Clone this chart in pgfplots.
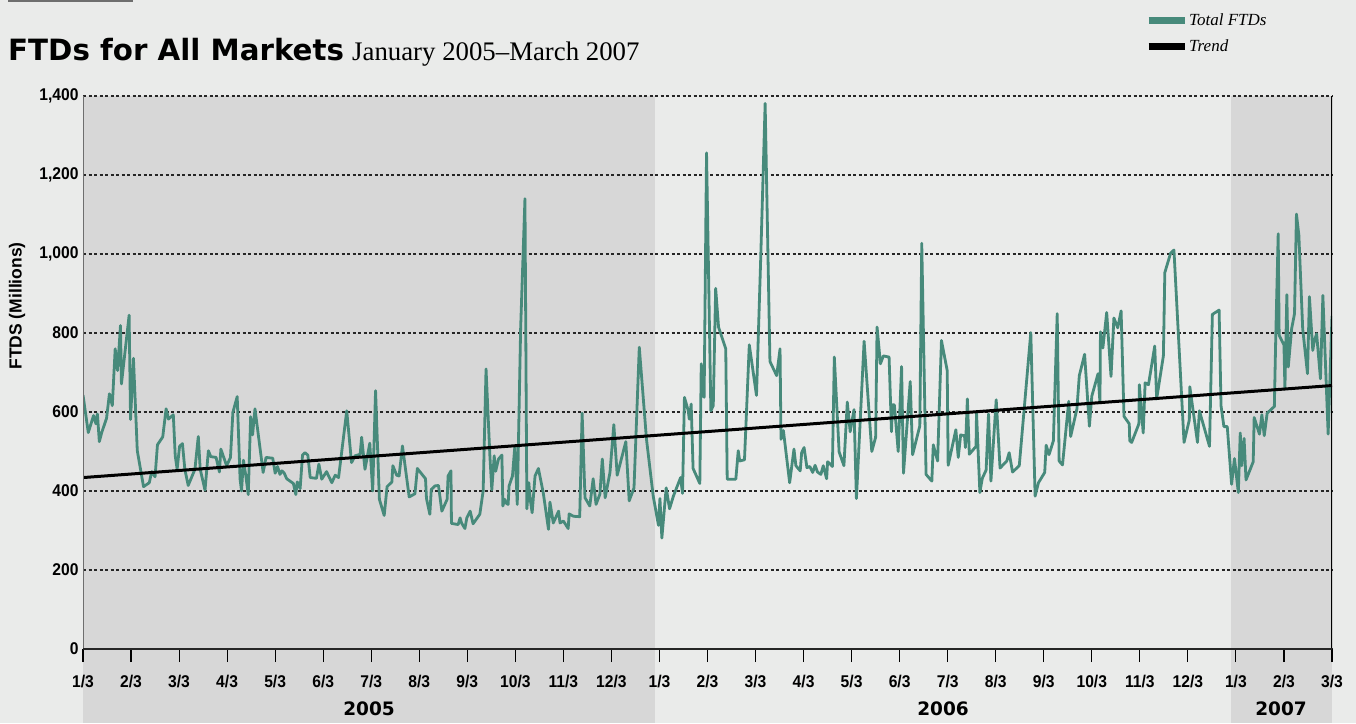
\documentclass[border=0pt]{standalone}
\usepackage{fontspec}
\usepackage{pgfplots}
\usepackage{pgfplotstable}
\pgfplotsset{compat=1.18}
\setmainfont{Liberation Serif}
\newfontfamily\dejavu{DejaVu Sans}
\newfontfamily\tickfam{Liberation Sans}[FakeStretch=0.92]
\newfontfamily\labfam{Liberation Sans}
\definecolor{bgc}{RGB}{234,235,234}
\definecolor{bandc}{RGB}{215,215,215}
\definecolor{tealc}{RGB}{71,138,123}
\definecolor{rulec}{RGB}{110,110,110}

\pgfplotstableread{
m v
0.00 643
0.11 548
0.22 591
0.27 570
0.30 595
0.34 525
0.39 548
0.49 584
0.55 646
0.61 616
0.67 760
0.72 705
0.78 819
0.80 671
0.96 845
0.99 581
1.05 736
1.13 502
1.26 411
1.38 421
1.43 449
1.50 436
1.55 517
1.66 537
1.73 608
1.78 582
1.88 593
1.92 489
1.96 455
2.01 513
2.07 520
2.12 455
2.19 414
2.33 455
2.40 538
2.44 455
2.54 402
2.61 502
2.66 487
2.77 485
2.84 448
2.87 506
2.99 464
3.07 485
3.12 599
3.21 639
3.27 430
3.30 400
3.34 478
3.39 438
3.44 391
3.49 588
3.53 542
3.58 608
3.75 447
3.81 485
3.95 483
4.00 445
4.05 462
4.10 442
4.14 451
4.19 445
4.24 431
4.38 419
4.43 391
4.46 423
4.52 406
4.57 491
4.62 497
4.68 491
4.73 434
4.86 432
4.91 468
4.97 430
5.07 449
5.18 421
5.25 440
5.32 434
5.49 603
5.59 472
5.66 489
5.77 493
5.80 536
5.87 455
5.97 521
6.03 400
6.09 654
6.17 379
6.27 338
6.33 411
6.43 423
6.45 464
6.53 440
6.58 438
6.65 514
6.79 385
6.91 393
6.96 457
7.13 431
7.15 381
7.22 341
7.25 404
7.33 413
7.40 414
7.47 349
7.58 379
7.60 438
7.66 451
7.67 318
7.81 315
7.85 332
7.88 319
7.95 305
7.99 332
8.06 349
8.12 317
8.26 341
8.33 400
8.39 709
8.47 489
8.51 403
8.56 489
8.59 450
8.65 481
8.72 491
8.74 362
8.78 379
8.80 370
8.85 366
8.87 413
8.94 438
8.99 514
9.04 366
9.11 811
9.20 1140
9.24 355
9.28 421
9.31 379
9.35 345
9.41 438
9.48 457
9.58 396
9.69 303
9.72 372
9.79 319
9.90 349
9.93 319
10.00 324
10.10 305
10.12 342
10.21 336
10.34 335
10.39 597
10.45 383
10.55 362
10.62 431
10.68 366
10.76 392
10.81 481
10.87 383
10.97 447
11.05 568
11.12 440
11.30 525
11.37 375
11.47 408
11.58 764
11.73 531
11.87 387
11.98 313
12.01 381
12.05 281
12.14 408
12.21 355
12.29 387
12.44 434
12.48 394
12.52 637
12.60 603
12.62 582
12.66 620
12.70 457
12.84 419
12.87 722
12.93 637
12.98 1256
13.07 603
13.12 616
13.17 913
13.23 815
13.38 760
13.41 430
13.59 430
13.64 502
13.67 476
13.77 479
13.87 770
14.02 642
14.11 998
14.20 1381
14.30 728
14.44 692
14.51 760
14.53 531
14.58 553
14.71 421
14.80 506
14.84 464
14.93 451
14.96 497
15.01 510
15.07 459
15.13 462
15.19 447
15.24 465
15.29 448
15.36 442
15.41 464
15.48 431
15.50 474
15.54 470
15.60 462
15.64 739
15.74 499
15.84 464
15.91 625
15.97 550
16.05 606
16.10 381
16.26 779
16.42 500
16.50 536
16.53 815
16.60 722
16.66 742
16.78 739
16.83 550
16.85 618
16.89 618
16.97 500
17.04 715
17.08 445
17.22 677
17.27 492
17.42 565
17.46 1027
17.55 442
17.67 425
17.70 517
17.79 476
17.87 781
17.99 705
18.01 465
18.17 555
18.22 485
18.27 542
18.35 540
18.37 510
18.41 633
18.45 493
18.59 513
18.60 599
18.67 396
18.72 432
18.80 453
18.85 595
18.90 425
19.01 631
19.09 458
19.23 476
19.28 497
19.35 448
19.49 464
19.73 801
19.82 387
19.89 421
20.02 447
20.05 516
20.11 492
20.20 527
20.28 849
20.32 476
20.39 466
20.52 627
20.56 538
20.69 608
20.74 692
20.85 746
20.95 564
21.00 640
21.13 697
21.17 623
21.18 803
21.23 762
21.31 852
21.40 690
21.46 838
21.54 813
21.61 856
21.67 589
21.78 570
21.79 527
21.83 523
21.98 570
21.99 669
22.07 547
22.11 674
22.18 669
22.31 767
22.35 633
22.49 742
22.52 953
22.64 1002
22.71 1010
22.92 523
23.03 580
23.04 664
23.20 523
23.24 603
23.45 513
23.51 847
23.65 858
23.69 616
23.75 563
23.82 563
23.91 417
23.97 482
24.05 396
24.09 547
24.12 464
24.17 533
24.21 428
24.36 474
24.38 586
24.49 544
24.54 593
24.59 540
24.65 597
24.80 614
24.83 794
24.88 1051
24.90 794
25.00 770
25.02 658
25.06 897
25.09 714
25.16 811
25.22 849
25.26 1101
25.31 1048
25.39 811
25.49 697
25.53 892
25.60 756
25.63 779
25.68 798
25.76 684
25.81 895
25.92 544
26.00 843
}\ftd

\begin{document}
\begin{tikzpicture}[x=1pt,y=1pt]
\fill[bgc] (0,0) rectangle (1356,723);
\path[use as bounding box] (0,0) rectangle (1356,723);
\fill[bandc] (83,0) rectangle (655,627);
\fill[bandc] (1231,0) rectangle (1332,627);
\fill[rulec] (8,721) rectangle (133,723);
\node[anchor=base west, inner sep=0] at (8,662) {\dejavu\bfseries\fontsize{29.3}{30}\selectfont FTDs for All Markets};
\node[anchor=base west, inner sep=0] at (352,662) {\fontsize{26.8}{28}\selectfont January 2005–March 2007};
\node[rotate=90, anchor=center, inner sep=0] at (17,417) {\labfam\bfseries\fontsize{17.5}{17.5}\selectfont FTDS (Millions)};
\node[anchor=base, inner sep=0] at (369,8) {\dejavu\bfseries\fontsize{18.5}{19}\selectfont 2005};
\node[anchor=base, inner sep=0] at (943,8) {\dejavu\bfseries\fontsize{18.5}{19}\selectfont 2006};
\node[anchor=base, inner sep=0] at (1281,8) {\dejavu\bfseries\fontsize{18.5}{19}\selectfont 2007};
\begin{axis}[
  at={(83pt,74pt)}, anchor=south west,
  scale only axis, width=1249pt, height=553pt,
  xmin=0, xmax=26, ymin=0, ymax=1400,
  axis line style={draw=none},
  xtick={0,...,26},
  xticklabels={1/3,2/3,3/3,4/3,5/3,6/3,7/3,8/3,9/3,10/3,11/3,12/3,1/3,2/3,3/3,4/3,5/3,6/3,7/3,8/3,9/3,10/3,11/3,12/3,1/3,2/3,3/3},
  ytick={0,200,...,1400},
  ymajorgrids,
  grid style={dash pattern=on 3pt off 2.5pt, line width=1.1pt, color=black!85},
  tick align=outside, major tick length=13pt,
  xtick pos=bottom, ytick pos=left,
  xtick style={black, line width=1.1pt},
  ytick style={draw=none},
  tick label style={font=\tickfam\bfseries\fontsize{17}{17}\selectfont},
  /pgf/number format/assume math mode=true,
  /pgf/number format/1000 sep={,},
  xticklabel style={anchor=base, yshift=-25pt},
  yticklabel style={xshift=12pt},
  legend style={at={(0.8503,1.1503)}, anchor=north west, draw=none, fill=none,
    font=\fontsize{17}{17}\selectfont\itshape, row sep=10pt, inner sep=0pt,
    nodes={inner sep=1pt}},
  legend cell align=left,
  legend image code/.code={\draw[#1, line width=7pt] (0pt,0pt) -- (36pt,0pt);},
]
\addplot[tealc, line width=2.8pt, line join=round] table[x=m, y=v] {\ftd};
\addlegendentry{Total FTDs}
\addplot[black, line width=3pt] coordinates {(0,434) (26,667)};
\addlegendentry{Trend}
\draw[rulec, line width=2pt] (axis cs:0,0) -- (axis cs:0,1400);
\draw[black, line width=1.5pt] (axis cs:26,0) -- (axis cs:26,1400);
\draw[black!85, line width=1.8pt] (axis cs:0,0) -- (axis cs:26,0);
\end{axis}
\end{tikzpicture}
\end{document}
